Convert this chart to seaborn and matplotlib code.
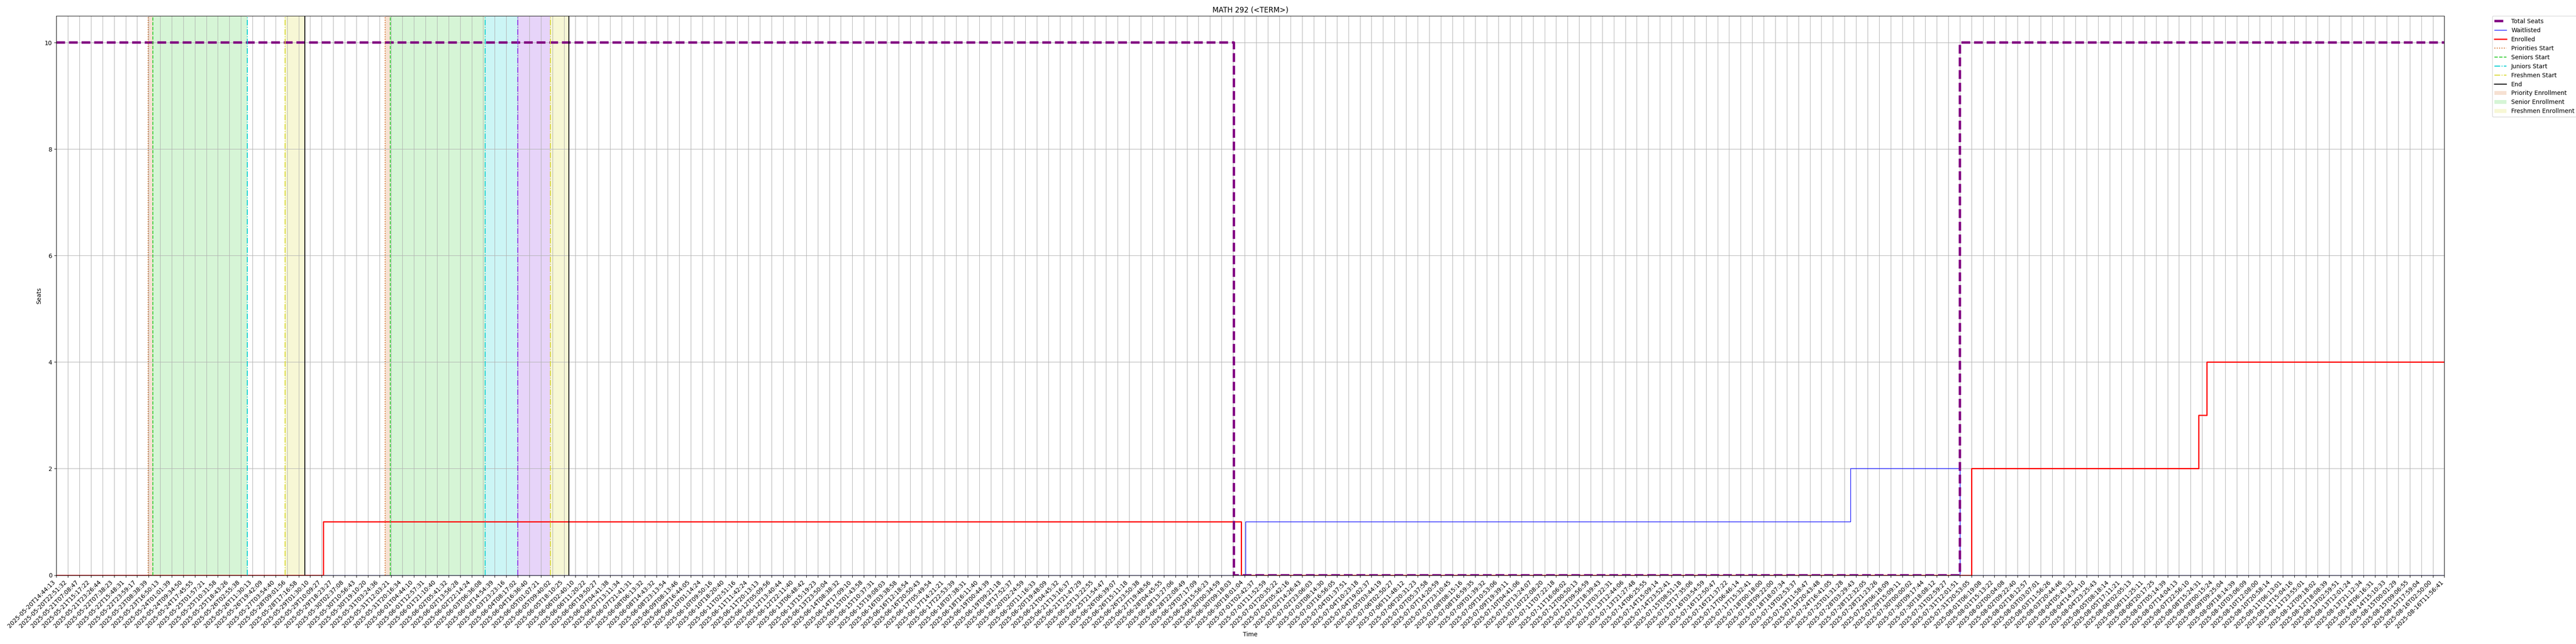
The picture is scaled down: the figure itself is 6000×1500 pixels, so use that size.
import matplotlib
matplotlib.use("Agg")
import matplotlib.pyplot as plt
import seaborn as sns

# x positions are in sample-index units: tick k sits at x = k
tick_labels = [
    "2025-05-20T14:44:13", "2025-05-20T22:51:32", "2025-05-21T07:08:47", "2025-05-21T15:17:22",
    "2025-05-21T23:26:44", "2025-05-22T07:38:23", "2025-05-22T15:48:31", "2025-05-22T23:59:17",
    "2025-05-23T08:38:39", "2025-05-23T16:50:13", "2025-05-24T01:01:39", "2025-05-24T09:34:50",
    "2025-05-24T17:45:55", "2025-05-25T01:57:21", "2025-05-25T10:31:58", "2025-05-25T18:43:26",
    "2025-05-26T02:55:38", "2025-05-26T11:30:13", "2025-05-26T19:42:09", "2025-05-27T03:54:40",
    "2025-05-28T09:01:56", "2025-05-28T17:16:58", "2025-05-29T01:30:10", "2025-05-29T10:09:27",
    "2025-05-29T18:23:27", "2025-05-30T02:37:08", "2025-05-30T10:56:43", "2025-05-30T19:10:20",
    "2025-05-31T03:24:36", "2025-05-31T12:03:21", "2025-05-31T20:16:34", "2025-06-01T04:44:10",
    "2025-06-01T12:57:31", "2025-06-01T21:10:40", "2025-06-02T05:41:32", "2025-06-02T13:56:28",
    "2025-06-02T22:14:24", "2025-06-03T06:36:08", "2025-06-03T14:54:39", "2025-06-03T23:23:16",
    "2025-06-04T08:17:02", "2025-06-04T16:36:40", "2025-06-05T01:07:21", "2025-06-05T09:40:02",
    "2025-06-05T18:10:25", "2025-06-06T02:40:10", "2025-06-06T11:20:22", "2025-06-06T19:50:27",
    "2025-06-07T04:41:38", "2025-06-07T13:11:34", "2025-06-07T21:41:31", "2025-06-08T06:13:32",
    "2025-06-08T14:43:32", "2025-06-08T23:13:54", "2025-06-09T08:13:46", "2025-06-09T16:44:05",
    "2025-06-10T01:14:24", "2025-06-10T09:50:16", "2025-06-10T18:20:40", "2025-06-11T02:51:16",
    "2025-06-11T11:42:24", "2025-06-11T20:13:13", "2025-06-12T05:09:56", "2025-06-12T13:40:44",
    "2025-06-12T22:11:40", "2025-06-13T06:48:42", "2025-06-13T15:19:23", "2025-06-13T23:50:04",
    "2025-06-14T08:38:32", "2025-06-14T17:09:10", "2025-06-15T01:43:58", "2025-06-15T10:37:31",
    "2025-06-15T19:08:03", "2025-06-16T03:38:58", "2025-06-16T12:18:54", "2025-06-16T20:50:43",
    "2025-06-17T05:49:54", "2025-06-17T14:21:21", "2025-06-17T22:53:39", "2025-06-18T07:38:31",
    "2025-06-18T16:11:40", "2025-06-19T00:44:39", "2025-06-19T09:21:18", "2025-06-19T17:52:37",
    "2025-06-20T02:24:59", "2025-06-20T11:16:33", "2025-06-20T19:48:09", "2025-06-21T04:45:32",
    "2025-06-21T13:16:37", "2025-06-21T21:47:29", "2025-06-25T13:22:55", "2025-06-25T21:54:47",
    "2025-06-26T06:39:07", "2025-06-26T15:11:18", "2025-06-26T23:50:38", "2025-06-27T19:48:56",
    "2025-06-28T04:45:55", "2025-06-28T13:27:06", "2025-06-28T22:08:49", "2025-06-29T07:17:09",
    "2025-06-29T15:56:23", "2025-06-30T00:34:59", "2025-06-30T09:18:03", "2025-06-30T18:01:04",
    "2025-07-01T02:42:37", "2025-07-01T11:52:59", "2025-07-01T20:35:22", "2025-07-02T05:42:16",
    "2025-07-02T14:26:43", "2025-07-02T23:06:03", "2025-07-03T08:14:30", "2025-07-03T16:56:05",
    "2025-07-04T01:37:51", "2025-07-04T10:23:18", "2025-07-04T19:02:37", "2025-07-05T03:44:19",
    "2025-07-06T02:50:27", "2025-07-06T11:48:12", "2025-07-06T20:31:23", "2025-07-07T05:37:58",
    "2025-07-07T14:20:59", "2025-07-07T23:10:45", "2025-07-08T08:15:16", "2025-07-08T16:59:35",
    "2025-07-09T01:39:32", "2025-07-09T10:53:06", "2025-07-09T19:39:11", "2025-07-10T04:41:06",
    "2025-07-10T13:24:07", "2025-07-10T22:08:20", "2025-07-11T07:22:18", "2025-07-11T16:06:02",
    "2025-07-12T00:50:13", "2025-07-12T09:56:59", "2025-07-12T18:39:43", "2025-07-13T03:22:31",
    "2025-07-13T12:44:06", "2025-07-13T21:27:48", "2025-07-14T06:25:55", "2025-07-14T15:09:14",
    "2025-07-14T23:52:41", "2025-07-15T08:51:18", "2025-07-15T17:35:06", "2025-07-16T03:54:59",
    "2025-07-16T12:50:47", "2025-07-16T21:37:22", "2025-07-17T06:46:14", "2025-07-17T15:32:41",
    "2025-07-18T00:18:00", "2025-07-18T09:22:00", "2025-07-18T18:07:34", "2025-07-19T02:53:37",
    "2025-07-19T11:58:47", "2025-07-19T20:43:48", "2025-07-24T16:41:05", "2025-07-25T01:31:28",
    "2025-07-28T03:29:43", "2025-07-28T12:32:05", "2025-07-28T21:23:26", "2025-07-29T06:18:09",
    "2025-07-29T15:09:11", "2025-07-30T00:00:02", "2025-07-30T09:17:44", "2025-07-30T18:08:12",
    "2025-07-31T02:59:27", "2025-07-31T12:01:51", "2025-07-31T20:53:05", "2025-08-01T06:19:08",
    "2025-08-01T15:13:22", "2025-08-02T00:04:08", "2025-08-02T09:22:40", "2025-08-02T18:12:57",
    "2025-08-03T03:07:01", "2025-08-03T11:56:26", "2025-08-03T20:44:46", "2025-08-04T05:43:32",
    "2025-08-04T14:34:10", "2025-08-04T23:25:43", "2025-08-05T08:18:14", "2025-08-05T17:11:21",
    "2025-08-06T02:05:13", "2025-08-06T11:25:11", "2025-08-06T20:17:25", "2025-08-07T05:14:39",
    "2025-08-07T14:04:13", "2025-08-07T22:56:10", "2025-08-08T15:24:31", "2025-08-09T00:15:24",
    "2025-08-09T09:25:04", "2025-08-09T18:14:39", "2025-08-10T03:06:09", "2025-08-10T12:08:00",
    "2025-08-10T20:58:14", "2025-08-11T06:13:01", "2025-08-11T15:04:16", "2025-08-11T23:55:01",
    "2025-08-12T09:18:02", "2025-08-12T18:08:39", "2025-08-13T02:59:51", "2025-08-13T12:01:24",
    "2025-08-13T21:12:34", "2025-08-14T06:16:31", "2025-08-14T15:10:33", "2025-08-15T00:01:29",
    "2025-08-15T09:06:55", "2025-08-15T17:59:04", "2025-08-16T02:50:00", "2025-08-16T11:56:41",
]

# step series: x where the value changes, and the new value
seats_x = [0, 102.07, 165.0, 207]
seats_y = [10, 0, 10, 10]
wait_x = [0, 103.06, 155.5, 165.0, 207]
wait_y = [0, 1, 2, 0, 0]
enrolled_x = [0, 23.12, 102.7, 166.0, 185.7, 186.4, 207]
enrolled_y = [0, 1, 0, 2, 3, 4, 4]

# enrollment phases, one entry per registration cycle
priority_start = [7.94, 28.51]
seniors_start = [8.38, 28.96]
juniors_start = [16.55, 37.15]
sophomores_start = [None, 39.98]
freshmen_start = [19.84, 42.82]
end_time = [21.55, 44.44]

c_prio = "#d2691e"
c_sen = "#32cd32"
c_jun = "#00ced1"
c_soph = "#8a2be2"
c_fresh = "#d8d830"

fig, ax = plt.subplots(figsize=(60, 15), dpi=100)
fig.subplots_adjust(left=0.02188, right=0.9489, top=0.9751, bottom=0.107)

sns.lineplot(x=wait_x, y=wait_y, drawstyle="steps-post", color="blue", linewidth=1,
             estimator=None, label="Waitlisted", ax=ax)
sns.lineplot(x=enrolled_x, y=enrolled_y, drawstyle="steps-post", color="red", linewidth=2,
             estimator=None, label="Enrolled", ax=ax)
sns.lineplot(x=seats_x, y=seats_y, drawstyle="steps-post", color="purple", linewidth=4,
             linestyle="--", estimator=None, label="Total Seats", ax=ax)

for i in range(len(priority_start)):
    first = i == 0
    p, s, j, so, f, e = (priority_start[i], seniors_start[i], juniors_start[i],
                         sophomores_start[i], freshmen_start[i], end_time[i])
    ax.axvspan(p, s, color=c_prio, alpha=0.2, lw=0, label="Priority Enrollment" if first else None)
    ax.axvspan(s, j, color=c_sen, alpha=0.2, lw=0, label="Senior Enrollment" if first else None)
    if so is not None:
        ax.axvspan(j, so, color=c_jun, alpha=0.2, lw=0)
        ax.axvspan(so, f, color=c_soph, alpha=0.2, lw=0)
    ax.axvspan(f, e, color=c_fresh, alpha=0.2, lw=0, label="Freshmen Enrollment" if first else None)

    ax.axvline(p, color=c_prio, linestyle=":", lw=1.5, label="Priorities Start" if first else None)
    ax.axvline(s, color=c_sen, linestyle="--", lw=1.5, label="Seniors Start" if first else None)
    ax.axvline(j, color=c_jun, linestyle="-.", lw=1.5, label="Juniors Start" if first else None)
    if so is not None:
        ax.axvline(so, color=c_soph, linestyle="-.", lw=1.5)
    ax.axvline(f, color=c_fresh, linestyle="-.", lw=1.5, label="Freshmen Start" if first else None)
    ax.axvline(e, color="black", linestyle="-", lw=1.5, label="End" if first else None)

ax.set_xlim(0, len(tick_labels) - 1)
ax.set_ylim(0, 10.5)
ax.set_xticks(range(len(tick_labels)))
ax.set_xticklabels(tick_labels, rotation=45, ha="right")
ax.grid(True)
ax.set_title("MATH 292 (<TERM>)")
ax.set_xlabel("Time")
ax.set_ylabel("Seats")

order = ["Total Seats", "Waitlisted", "Enrolled", "Priorities Start", "Seniors Start",
         "Juniors Start", "Freshmen Start", "End", "Priority Enrollment",
         "Senior Enrollment", "Freshmen Enrollment"]
h, l = ax.get_legend_handles_labels()
lookup = dict(zip(l, h))
ax.legend([lookup[k] for k in order], order, loc="upper left",
          bbox_to_anchor=(1.02, 1), borderaxespad=0)

fig.savefig("out.png")
